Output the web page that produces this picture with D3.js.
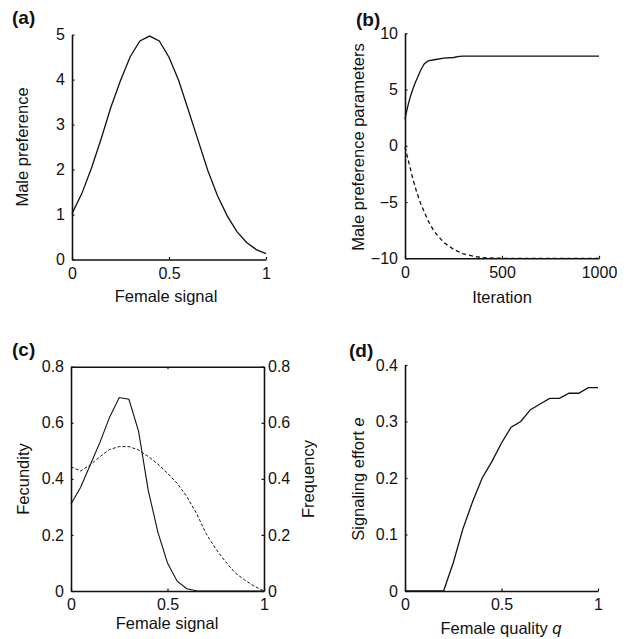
<!DOCTYPE html>
<html>
<head>
<meta charset="utf-8">
<script src="https://cdn.jsdelivr.net/npm/d3@7"></script>
<style>
    body { margin: 0; background: #fff; }
    svg { font-family: "Liberation Sans", Arial, Helvetica, sans-serif; }
</style>
</head>
<body>
<svg id="chart" width="628" height="639"></svg>
<script>
(function () {
    "use strict";

    // (a) male preference against female signal
    var signalA = [0, 0.05, 0.1, 0.15, 0.2, 0.25, 0.3, 0.35, 0.4, 0.45, 0.5,
        0.55, 0.6, 0.65, 0.7, 0.75, 0.8, 0.85, 0.9, 0.95, 1];
    var malePref = [1.02, 1.46, 2.03, 2.68, 3.38, 3.98, 4.51, 4.86, 4.97, 4.86, 4.5,
        3.98, 3.32, 2.65, 1.98, 1.42, 0.97, 0.62, 0.38, 0.22, 0.13];

    // (b) male preference parameters over iterations
    var iterSolid = [0, 10, 20, 30, 40, 50, 60, 70, 80, 90, 100, 120, 150, 200, 250, 280, 300, 400, 500, 600, 700, 800, 900, 1000];
    var paramSolid = [2.4, 3.2, 3.9, 4.5, 5.0, 5.5, 5.9, 6.3, 6.7, 7.0, 7.3, 7.55, 7.65, 7.8, 7.85, 7.95, 7.97, 7.97, 7.97, 7.97, 7.97, 7.97, 7.97, 7.97];
    var iterDashed = [0, 10, 20, 30, 40, 50, 60, 70, 80, 100, 120, 150, 200, 250, 300, 350, 400, 500, 600, 700, 800, 900, 1000];
    var paramDashed = [-0.1, -0.8, -1.5, -2.2, -2.9, -3.5, -4.1, -4.6, -5.1, -5.9, -6.7, -7.6, -8.6, -9.2, -9.6, -9.8, -9.95, -10, -10, -10, -10, -10, -10];

    // (c) fecundity (solid) and frequency (dashed) against female signal
    var signalC = [0, 0.05, 0.1, 0.15, 0.2, 0.25, 0.3, 0.35, 0.4, 0.45, 0.5,
        0.55, 0.6, 0.65, 0.7, 0.75, 0.8, 0.85, 0.9, 0.95, 1];
    var fecundity = [0.31, 0.37, 0.45, 0.53, 0.62, 0.69, 0.684, 0.57, 0.36, 0.21, 0.1,
        0.035, 0.008, 0.001, 0, 0, 0, 0, 0, 0, 0];
    var frequency = [0.443, 0.428, 0.45, 0.479, 0.505, 0.515, 0.515, 0.503, 0.48, 0.453, 0.42,
        0.384, 0.337, 0.277, 0.205, 0.15, 0.105, 0.065, 0.039, 0.017, 0];

    // (d) signalling effort against female quality
    var quality = [0, 0.05, 0.1, 0.15, 0.2, 0.25, 0.3, 0.35, 0.4, 0.45, 0.5,
        0.55, 0.6, 0.65, 0.7, 0.75, 0.8, 0.85, 0.9, 0.95, 1];
    var effort = [0, 0, 0, 0, 0, 0.05, 0.11, 0.158, 0.2, 0.229, 0.262,
        0.29, 0.3, 0.321, 0.331, 0.341, 0.341, 0.35, 0.35, 0.36, 0.36];

    // tick labels
    var ticksSignal = [0, 0.5, 1];
    var ticksPref = [0, 1, 2, 3, 4, 5];
    var ticksIter = [0, 500, 1000];
    var ticksParam = [-10, -5, 0, 5, 10];
    var ticksFec = [0, 0.2, 0.4, 0.6, 0.8];
    var ticksEffort = [0, 0.1, 0.2, 0.3, 0.4];

    var ink = '#111';
    var svg = d3.select('#chart');

    function fmt(d) { return d3.format('')(d).replace('-', '\u2212'); }

    function drawAxes(g, x, y, xt, yt, box) {
        var xAxis = d3.axisBottom(x).tickValues(xt).tickFormat(fmt)
            .tickSizeInner(-2.5).tickSizeOuter(0).tickPadding(8);
        var yAxis = d3.axisLeft(y).tickValues(yt).tickFormat(fmt)
            .tickSizeInner(-2.5).tickSizeOuter(0).tickPadding(7);
        var y0 = y.range()[0];
        var x0 = x.range()[0];
        g.append('g').attr('class', 'axis').attr('transform', 'translate(0,' + y0 + ')').call(xAxis);
        g.append('g').attr('class', 'axis').attr('transform', 'translate(' + x0 + ',0)').call(yAxis);
        if (box) {
            g.append('g').attr('class', 'axis noText').attr('transform', 'translate(0,' + y.range()[1] + ')')
                .call(d3.axisTop(x).tickValues(xt).tickSizeInner(-2.5).tickSizeOuter(0));
            g.append('g').attr('class', 'axis').attr('transform', 'translate(' + x.range()[1] + ',0)')
                .call(d3.axisRight(y).tickValues(yt).tickFormat(fmt).tickSizeInner(-2.5).tickSizeOuter(0).tickPadding(4));
        }
        g.selectAll('.axis .domain').attr('stroke', ink).attr('stroke-width', 1.6);
        g.selectAll('.axis .tick line').attr('stroke', ink).attr('stroke-width', 1.2);
        g.selectAll('.axis text').attr('fill', ink).style('font-size', '16px');
        g.selectAll('.noText text').remove();
    }

    function drawLine(g, x, y, xs, ys, dash, width) {
        var line = d3.line()
            .x(function (d) { return x(d[0]); })
            .y(function (d) { return y(d[1]); });
        g.append('path')
            .datum(d3.zip(xs, ys))
            .attr('d', line)
            .attr('fill', 'none')
            .attr('stroke', ink)
            .attr('stroke-width', width || 1.3)
            .attr('stroke-dasharray', dash || null);
    }

    function label(g, txt, x, y) {
        g.append('text').attr('x', x).attr('y', y).text(txt)
            .style('font-size', '19px').style('font-weight', 'bold').attr('fill', ink);
    }

    function title(g, x, y, rot, parts) {
        var t = g.append('text')
            .attr('transform', 'translate(' + x + ',' + y + ')' + (rot ? ' rotate(-90)' : ''))
            .attr('text-anchor', 'middle').style('font-size', '16.5px').attr('fill', ink);
        parts.forEach(function (p) {
            t.append('tspan').text(p[0]).style('font-style', p[1] ? 'italic' : 'normal');
        });
    }

    // panel (a)
    var ga = svg.append('g');
    var xa = d3.scaleLinear().domain([0, 1]).range([72, 266]);
    var ya = d3.scaleLinear().domain([0, 5]).range([259.5, 34.7]);
    drawLine(ga, xa, ya, signalA, malePref);
    drawAxes(ga, xa, ya, ticksSignal, ticksPref, false);
    label(ga, '(a)', 12, 24);
    title(ga, 166, 302, false, [['Female signal']]);
    title(ga, 28, 147, true, [['Male preference']]);

    // panel (b)
    var gb = svg.append('g');
    var xb = d3.scaleLinear().domain([0, 1000]).range([405, 599]);
    var yb = d3.scaleLinear().domain([-10, 10]).range([258.3, 33.3]);
    drawLine(gb, xb, yb, iterSolid, paramSolid);
    drawLine(gb, xb, yb, iterDashed, paramDashed, '4,3');
    drawAxes(gb, xb, yb, ticksIter, ticksParam, false);
    label(gb, '(b)', 356, 26);
    title(gb, 502, 303, false, [['Iteration']]);
    title(gb, 364, 147, true, [['Male preference parameters']]);

    // panel (c)
    var gc = svg.append('g');
    var xc = d3.scaleLinear().domain([0, 1]).range([71, 264]);
    var yc = d3.scaleLinear().domain([0, 0.8]).range([591, 366.7]);
    drawLine(gc, xc, yc, signalC, fecundity, null, 1.1);
    drawLine(gc, xc, yc, signalC, frequency, '3,2', 1);
    drawAxes(gc, xc, yc, ticksSignal, ticksFec, true);
    label(gc, '(c)', 12, 356);
    title(gc, 167, 629, false, [['Female signal']]);
    title(gc, 29, 479, true, [['Fecundity']]);
    title(gc, 314, 479, true, [['Frequency']]);

    // panel (d)
    var gd = svg.append('g');
    var xd = d3.scaleLinear().domain([0, 1]).range([405, 598]);
    var yd = d3.scaleLinear().domain([0, 0.4]).range([591, 365]);
    drawLine(gd, xd, yd, quality, effort);
    drawAxes(gd, xd, yd, ticksSignal, ticksEffort, false);
    label(gd, '(d)', 349, 357);
    title(gd, 501, 634, false, [['Female quality '], ['q', true]]);
    title(gd, 364, 479, true, [['Signaling effort '], ['e', true]]);
})();
</script>
</body>
</html>
